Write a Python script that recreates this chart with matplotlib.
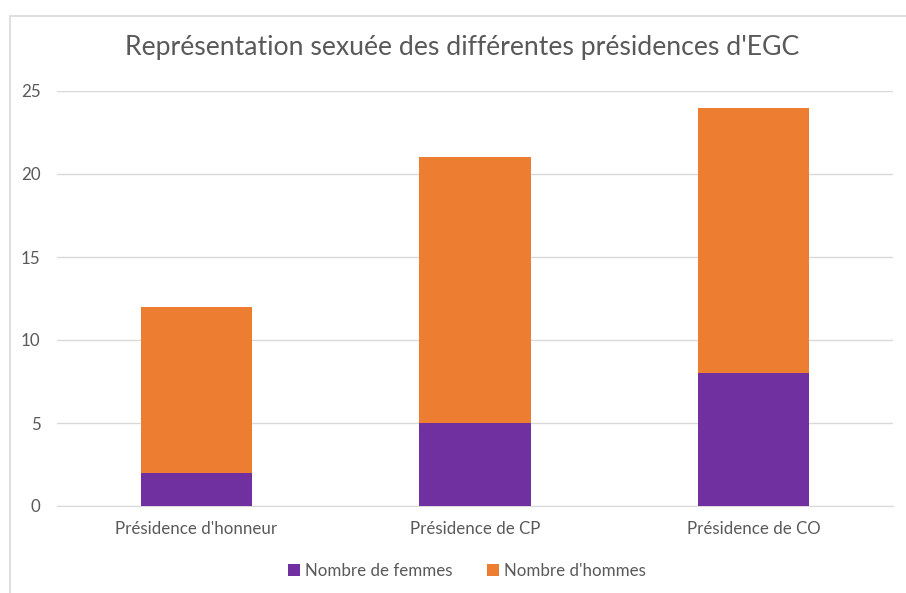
import matplotlib.pyplot as plt
from matplotlib.patches import Rectangle
import numpy as np

categories = ["Présidence d'honneur", "Présidence de CP", "Présidence de CO"]
femmes = [2, 5, 8]
hommes = [10, 16, 16]
series_labels = ["Nombre de femmes", "Nombre d'hommes"]
yticks = [0, 5, 10, 15, 20, 25]

plt.rcParams['font.family'] = ['Lato', 'DejaVu Sans']
text_col = '#595959'
grid_col = '#D9D9D9'

fig = plt.figure(figsize=(9.06, 5.93), dpi=100)
ax = fig.add_axes([57/906, 1-506/593, 836/906, 415/593])

# chart border
fig.patches.append(Rectangle((10/906, -0.01), 1, 1-16/593 + 0.01, transform=fig.transFigure,
                             fill=False, edgecolor='#D9D9D9', linewidth=1.2))

x = np.arange(len(categories))
w = 0.4
ax.bar(x, femmes, w, color='#7030A0', label=series_labels[0], zorder=3)
ax.bar(x, hommes, w, bottom=femmes, color='#ED7D31', label=series_labels[1], zorder=3)

ax.set_xlim(-0.5, len(categories) - 0.5)
ax.set_ylim(0, 25)
ax.set_yticks(yticks)
ax.set_xticks(x)
ax.set_xticklabels(categories)
ax.tick_params(axis='both', length=0, labelsize=12.2, colors=text_col)
ax.tick_params(axis='y', pad=12)
ax.tick_params(axis='x', pad=11)
ax.grid(axis='y', color=grid_col, linewidth=1, zorder=0)
for s in ['top', 'right', 'left']:
    ax.spines[s].set_visible(False)
ax.spines['bottom'].set_color(grid_col)

fig.text(462/906, 1-48/593, "Représentation sexuée des différentes présidences d'EGC",
         ha='center', va='center', fontsize=19.2, color=text_col)

fig.legend(loc='center', bbox_to_anchor=(467/906, 1-571/593), ncol=2, frameon=False,
           fontsize=12.2, labelcolor=text_col, handlelength=0.7, handleheight=0.7,
           handletextpad=0.3, columnspacing=2.0)

fig.savefig('out.png', dpi=100)
